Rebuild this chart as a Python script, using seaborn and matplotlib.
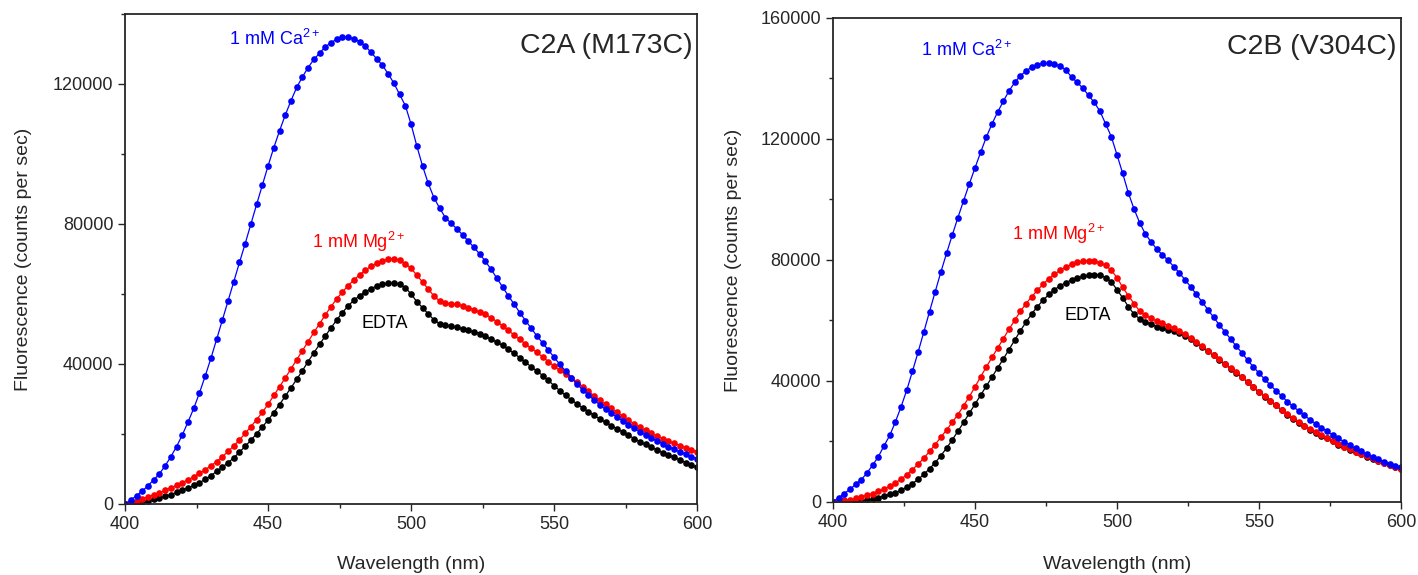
import matplotlib
matplotlib.use('Agg')
import matplotlib.pyplot as plt
import numpy as np
import seaborn as sns
from matplotlib.ticker import MultipleLocator

# Wavelength grid (nm), one reading every 2 nm
wavelength = np.arange(400, 602, 2)

# C2A (M173C) emission, in thousands of counts per sec
c2a_ca = [0.0, 1.1, 2.4, 3.7, 5.2, 6.9, 8.6, 10.9, 13.5, 16.4,
          19.7, 23.4, 27.3, 31.7, 36.5, 41.6, 47.0, 52.5, 58.0, 63.5,
          69.0, 74.4, 80.0, 85.6, 91.1, 96.6, 101.8, 106.6, 111.1, 115.2,
          119.0, 122.0, 124.7, 127.0, 128.8, 130.6, 131.8, 132.8, 133.4, 133.3,
          132.9, 132.1, 130.9, 129.0, 127.2, 125.3, 122.9, 120.2, 117.0, 113.8,
          108.5, 102.3, 96.6, 91.6, 87.5, 84.5, 81.8, 80.2, 78.6, 76.9,
          75.1, 73.3, 71.4, 69.3, 67.0, 64.5, 62.0, 59.5, 57.1, 54.7,
          52.4, 50.2, 48.0, 46.0, 44.0, 41.9, 39.9, 38.0, 36.1, 34.3,
          32.6, 31.1, 29.7, 28.3, 27.0, 25.9, 24.8, 23.7, 22.6, 21.6,
          20.7, 19.7, 18.8, 18.0, 17.2, 16.4, 15.6, 14.9, 14.2, 13.5,
          12.9]
c2a_mg = [0.0, 0.4, 0.9, 1.4, 2.0, 2.6, 3.2, 3.9, 4.6, 5.3,
          6.1, 6.9, 7.8, 8.8, 9.8, 10.9, 12.1, 13.5, 15.0, 16.6,
          18.3, 20.2, 22.1, 24.1, 26.2, 28.5, 31.0, 33.5, 36.0, 38.6,
          41.2, 43.8, 46.4, 49.0, 51.5, 54.0, 56.4, 58.6, 60.6, 62.4,
          64.0, 65.5, 66.8, 67.9, 68.8, 69.5, 69.9, 70.0, 69.6, 68.7,
          67.3, 65.4, 63.4, 61.4, 59.4, 58.0, 57.4, 57.2, 57.0, 56.7,
          56.1, 55.5, 54.9, 54.2, 53.2, 52.1, 50.9, 49.6, 48.3, 47.0,
          45.7, 44.5, 43.3, 42.0, 40.7, 39.4, 38.2, 37.0, 35.9, 34.8,
          33.5, 32.2, 30.9, 29.7, 28.5, 27.3, 26.2, 25.1, 24.0, 22.9,
          21.9, 21.0, 20.2, 19.4, 18.7, 18.0, 17.3, 16.7, 16.1, 15.5,
          14.9]
c2a_edta = [0.0, 0.0, 0.2, 0.5, 0.9, 1.3, 1.7, 2.2, 2.7, 3.3,
            3.9, 4.6, 5.3, 6.1, 7.0, 8.1, 9.3, 10.5, 11.8, 13.2,
            14.8, 16.5, 18.2, 20.1, 22.0, 24.0, 26.1, 28.4, 30.8, 33.2,
            35.6, 38.1, 40.7, 43.2, 45.6, 48.0, 50.3, 52.6, 54.7, 56.6,
            58.2, 59.5, 60.6, 61.5, 62.3, 62.8, 63.1, 63.1, 62.8, 61.8,
            60.0, 57.8, 56.1, 54.3, 52.6, 51.5, 51.0, 50.8, 50.5, 50.1,
            49.6, 49.2, 48.7, 47.9, 47.1, 46.2, 45.3, 44.2, 43.0, 41.8,
            40.5, 39.2, 38.0, 36.7, 35.3, 33.8, 32.4, 31.0, 29.8, 28.6,
            27.4, 26.4, 25.3, 24.3, 23.3, 22.4, 21.5, 20.6, 19.6, 18.7,
            17.8, 17.0, 16.2, 15.4, 14.7, 14.0, 13.3, 12.6, 11.8, 11.1,
            10.5]

# C2B (V304C) emission, in thousands of counts per sec
c2b_ca = [0.0, 1.4, 2.8, 4.2, 5.8, 7.4, 9.6, 12.2, 15.0, 18.6,
          22.0, 26.5, 31.5, 37.0, 43.2, 49.6, 56.2, 62.9, 69.5, 76.0,
          82.2, 88.2, 94.0, 99.6, 105.1, 110.4, 115.6, 120.6, 125.0, 128.9,
          132.5, 135.9, 138.7, 140.9, 142.5, 143.8, 144.6, 145.0, 145.0, 144.8,
          144.2, 142.8, 140.5, 138.7, 136.8, 134.4, 132.1, 129.2, 125.0, 120.8,
          114.8, 108.7, 102.2, 96.9, 92.3, 88.6, 86.0, 83.6, 81.7, 79.9,
          77.8, 75.7, 73.4, 71.1, 68.6, 66.1, 63.6, 61.1, 58.6, 56.2,
          53.9, 51.5, 49.3, 46.9, 44.7, 42.6, 40.6, 38.6, 36.8, 35.0,
          33.2, 31.6, 30.1, 28.6, 27.2, 25.8, 24.6, 23.3, 22.1, 21.0,
          19.9, 18.8, 17.7, 16.7, 15.8, 14.9, 14.1, 13.3, 12.6, 12.0,
          11.5]
c2b_mg = [0.0, 0.2, 0.5, 0.8, 1.2, 1.7, 2.2, 2.8, 3.5, 4.3,
          5.2, 6.3, 7.6, 9.0, 10.7, 12.5, 14.5, 16.7, 19.0, 21.4,
          23.8, 26.3, 28.9, 31.8, 34.8, 38.0, 41.4, 44.6, 47.8, 50.9,
          54.0, 57.1, 60.1, 63.0, 65.6, 67.9, 70.0, 72.0, 73.8, 75.3,
          76.6, 77.7, 78.6, 79.3, 79.6, 79.8, 79.6, 79.1, 78.2, 76.6,
          74.2, 71.0, 68.2, 65.6, 63.1, 61.7, 60.7, 59.8, 59.1, 58.3,
          57.4, 56.4, 55.4, 54.2, 52.9, 51.5, 50.0, 48.7, 47.2, 45.7,
          44.2, 42.9, 41.4, 39.8, 38.1, 36.5, 35.0, 33.5, 32.1, 30.5,
          29.1, 27.7, 26.3, 25.2, 24.1, 23.1, 22.1, 21.2, 20.2, 19.2,
          18.3, 17.4, 16.6, 15.9, 15.2, 14.4, 13.7, 13.0, 12.3, 11.6,
          11.0]
c2b_edta = [0.0, 0.0, 0.0, 0.1, 0.2, 0.4, 0.7, 1.0, 1.4, 1.9,
            2.5, 3.1, 3.9, 4.9, 6.1, 7.5, 9.1, 11.0, 13.0, 15.3,
            17.8, 20.5, 23.4, 26.3, 29.3, 32.3, 35.3, 38.3, 41.3, 44.3,
            47.3, 50.4, 53.5, 56.6, 59.5, 62.2, 64.6, 66.7, 68.6, 70.2,
            71.5, 72.5, 73.4, 74.1, 74.6, 74.9, 75.2, 75.1, 74.2, 72.8,
            70.2, 67.5, 64.6, 62.1, 60.6, 59.6, 58.7, 58.0, 57.6, 57.0,
            56.4, 55.7, 54.9, 53.9, 52.7, 51.3, 49.8, 48.5, 47.0, 45.5,
            44.0, 42.7, 41.2, 39.6, 37.9, 36.3, 34.8, 33.3, 31.9, 30.3,
            28.9, 27.5, 26.1, 25.0, 23.9, 22.9, 21.9, 21.0, 20.0, 19.0,
            18.1, 17.2, 16.4, 15.7, 15.0, 14.2, 13.5, 12.8, 12.1, 11.4,
            10.8]

sns.set_style('ticks')
plt.rcParams['font.family'] = ['Liberation Sans', 'DejaVu Sans']
plt.rcParams['mathtext.fontset'] = 'custom'
plt.rcParams['mathtext.rm'] = 'Liberation Sans'
plt.rcParams['mathtext.it'] = 'Liberation Sans'


def draw_panel(ax, ca, mg, edta, ymax, title, labels):
    series = [(edta, 'black'), (mg, '#ff0000'), (ca, '#0000ff')]
    for vals, col in series:
        sns.lineplot(x=wavelength, y=np.array(vals) * 1000, ax=ax, color=col,
                     marker='o', markersize=4.8, markeredgewidth=0,
                     linewidth=0.9)
    ax.set_xlim(400, 600)
    ax.set_ylim(0, ymax)
    ax.xaxis.set_major_locator(MultipleLocator(50))
    ax.xaxis.set_minor_locator(MultipleLocator(25))
    ax.yaxis.set_major_locator(MultipleLocator(40000))
    ax.yaxis.set_minor_locator(MultipleLocator(20000))
    ax.tick_params(which='major', direction='out', length=5, width=1,
                   labelsize=13)
    ax.tick_params(which='minor', direction='out', length=3, width=1)
    for sp in ax.spines.values():
        sp.set_linewidth(1.3)
        sp.set_visible(True)
    ax.set_xlabel('Wavelength (nm)', fontsize=14)
    ax.set_ylabel('Fluorescence (counts per sec)', fontsize=14)
    ax.text(0.992, title[1], title[0], transform=ax.transAxes,
            ha='right', va='center', fontsize=20.5)
    for txt, x, y, col in labels:
        ax.text(x, y, txt, color=col, fontsize=13, ha='left', va='center')


fig = plt.figure(figsize=(14.18, 5.75), dpi=100)
ax1 = fig.add_axes([0.0882, 0.1235, 0.4034, 0.8522])
ax2 = fig.add_axes([0.5874, 0.127, 0.4006, 0.8417])

draw_panel(ax1, c2a_ca, c2a_mg, c2a_edta, 140000, ('C2A (M173C)', 0.935),
           [('1 mM Ca$^{2+}$', 436.5, 133000, '#0000ff'),
            ('1 mM Mg$^{2+}$', 465.5, 75000, '#ff0000'),
            ('EDTA', 482.5, 51700, 'black')])
draw_panel(ax2, c2b_ca, c2b_mg, c2b_edta, 160000, ('C2B (V304C)', 0.94),
           [('1 mM Ca$^{2+}$', 431, 149500, '#0000ff'),
            ('1 mM Mg$^{2+}$', 463, 88500, '#ff0000'),
            ('EDTA', 481.7, 61500, 'black')])

ax1.yaxis.set_label_coords(-0.163, 0.5)
ax2.yaxis.set_label_coords(-0.160, 0.5)
ax1.xaxis.set_label_coords(0.5, -0.107)
ax2.xaxis.set_label_coords(0.5, -0.111)

fig.savefig('out.png', dpi=100)
